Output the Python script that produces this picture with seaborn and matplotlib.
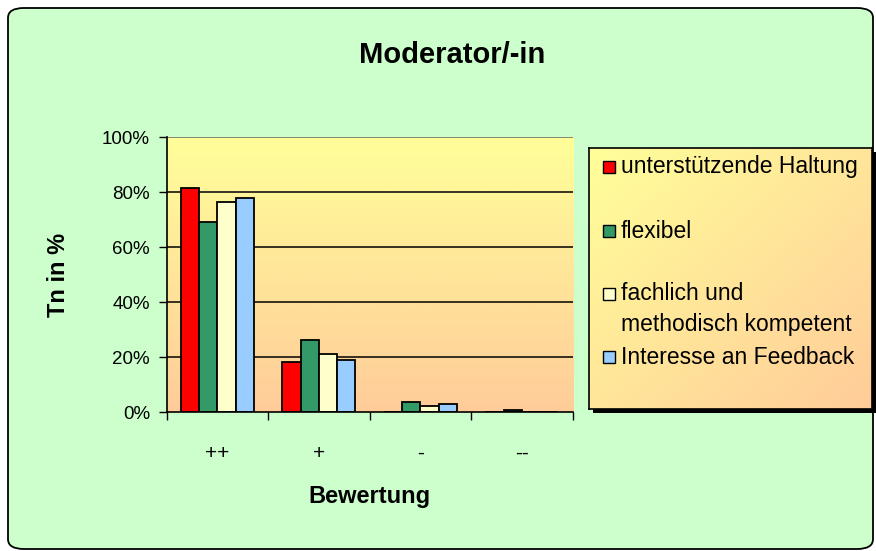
import numpy as np
import pandas as pd
import matplotlib
matplotlib.use("Agg")
import matplotlib.pyplot as plt
from matplotlib.patches import Rectangle, FancyBboxPatch
from matplotlib.ticker import FixedLocator, PercentFormatter
import seaborn as sns

# ---- data ----
categories = ["++", "+", "-", "--"]
series = ["unterstützende Haltung", "flexibel",
          "fachlich und\nmethodisch kompetent", "Interesse an Feedback"]
unterstuetzend = [81.5, 18.2, 0.0, 0.0]
flexibel = [69.1, 26.3, 3.6, 0.7]
fachlich = [76.4, 21.1, 2.3, 0.0]
feedback = [77.8, 19.0, 2.9, 0.0]
colors = ["#FF0000", "#339966", "#FFFFCC", "#99CCFF"]
yticks = [0, 20, 40, 60, 80, 100]

values = [unterstuetzend, flexibel, fachlich, feedback]
rows = []
for s, vals in zip(series, values):
    for c, v in zip(categories, vals):
        rows.append({"Bewertung": c, "Serie": s, "Wert": v})
df = pd.DataFrame(rows)

sns.set_theme(style="white")
plt.rcParams["font.family"] = ["Liberation Sans", "DejaVu Sans"]

W, H = 876, 551
fig = plt.figure(figsize=(W / 100, H / 100), dpi=100, facecolor="white")

def fx(x):
    return x / W

def fy(y):
    return 1 - y / H

# outer rounded green chart area
bg = FancyBboxPatch((fx(8), fy(549)), fx(865), 541 / H,
                    boxstyle="round,pad=0,rounding_size=0.018",
                    transform=fig.transFigure, facecolor="#CCFFCC",
                    edgecolor="black", linewidth=1.3, zorder=-10)
fig.patches.append(bg)

# main axes
left, right, top, bottom = 166.7, 572.7, 137.0, 412.3
ax = fig.add_axes([fx(left), fy(bottom), (right - left) / W, (bottom - top) / H])
ax.set_facecolor("none")

# vertical gradient background of plot area
top_c = np.array(matplotlib.colors.to_rgb("#FFFF99"))
bot_c = np.array(matplotlib.colors.to_rgb("#FFCC99"))
t = np.linspace(0, 1, 256)[:, None]
grad = (top_c[None, :] * (1 - t) + bot_c[None, :] * t)[:, None, :]
ax.imshow(grad, extent=(-0.5, 3.5, 0, 100), aspect="auto", zorder=0,
          origin="upper", interpolation="bilinear")

sns.barplot(data=df, x="Bewertung", y="Wert", hue="Serie", order=categories,
            hue_order=series, palette=dict(zip(series, colors)),
            width=0.72, gap=0, edgecolor="black", linewidth=1.3,
            saturation=1, errorbar=None, ax=ax, legend=False, zorder=2)

ax.set_xlim(-0.5, 3.5)
ax.set_ylim(0, 100)
for yv in yticks[1:]:
    ax.axhline(yv, color="black" if yv < 100 else "#666666",
               linewidth=1.1, zorder=1)

ax.yaxis.set_major_locator(FixedLocator(yticks))
ax.yaxis.set_major_formatter(PercentFormatter(decimals=0))
ax.tick_params(axis="y", which="major", direction="out", length=6, width=1,
               color="black", left=True, labelsize=13.5, pad=6, labelcolor="black")
ax.xaxis.set_minor_locator(FixedLocator([-0.5, 0.5, 1.5, 2.5, 3.5]))
ax.tick_params(axis="x", which="minor", direction="out", length=6, width=1,
               color="black", bottom=True)
ax.tick_params(axis="x", which="major", length=0, labelsize=15, pad=23,
               labelcolor="black")

for side in ["top", "right"]:
    ax.spines[side].set_visible(False)
for side in ["left", "bottom"]:
    ax.spines[side].set_color("black")
    ax.spines[side].set_linewidth(1.2)
    ax.spines[side].set_zorder(3)

ax.set_xlabel("Bewertung", fontsize=17, fontweight="bold", color="black")
ax.set_ylabel("Tn in %", fontsize=17, fontweight="bold", color="black")
ax.xaxis.set_label_coords(0.5, -(496 - bottom) / (bottom - top), transform=ax.transAxes)
ax.xaxis.label.set_va("center")
ax.yaxis.set_label_coords(-(left - 59) / (right - left), 0.5, transform=ax.transAxes)
ax.yaxis.label.set_va("center")

# title
fig.text(fx(452), fy(55), "Moderator/-in", fontsize=21, fontweight="bold",
         ha="center", va="center", color="black")

# legend box with shadow and diagonal gradient
lx0, ly0, lx1, ly1 = 589, 148, 872, 409
shadow = Rectangle((fx(lx0 + 4), fy(ly1 + 4)), (lx1 - lx0) / W, (ly1 - ly0) / H,
                   transform=fig.transFigure, facecolor="black",
                   edgecolor="none", zorder=-5)
fig.patches.append(shadow)
lax = fig.add_axes([fx(lx0), fy(ly1), (lx1 - lx0) / W, (ly1 - ly0) / H], zorder=1)
gx, gy = np.meshgrid(np.linspace(0, 1, 200), np.linspace(0, 1, 200))
tt = ((gx + gy) / 2)[..., None]
lgrad = top_c[None, None, :] * (1 - tt) + bot_c[None, None, :] * tt
lax.imshow(lgrad, extent=(0, 1, 0, 1), aspect="auto", origin="upper")
lax.set_xticks([])
lax.set_yticks([])
for sp in lax.spines.values():
    sp.set_color("black")
    sp.set_linewidth(1.2)

entry_y = [167, 231, 294, 357]
for s, c, yy in zip(series, colors, entry_y):
    fig.patches.append(Rectangle((fx(603), fy(yy + 6)), 12 / W, 12 / H,
                                 transform=fig.transFigure, facecolor=c,
                                 edgecolor="black", linewidth=1, zorder=5))
    lines = s.split("\n")
    for i, ln in enumerate(lines):
        fig.text(fx(621), fy(yy + i * 31), ln, fontsize=16.5, ha="left",
                 va="center", color="black", zorder=5)

fig.savefig("out.png", dpi=100, facecolor="white")
